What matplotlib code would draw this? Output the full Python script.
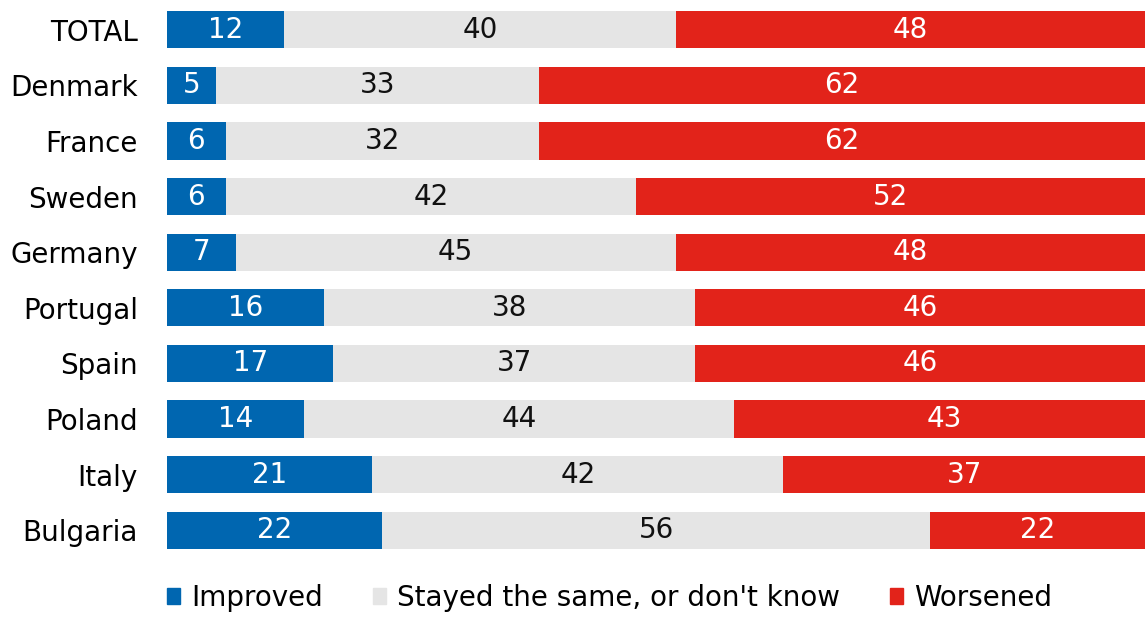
import matplotlib
matplotlib.use("Agg")
import matplotlib.pyplot as plt
from matplotlib.patches import Patch
import numpy as np

plt.rcParams['font.family'] = ['DejaVu Sans']

countries = ['TOTAL', 'Denmark', 'France', 'Sweden', 'Germany',
             'Portugal', 'Spain', 'Poland', 'Italy', 'Bulgaria']
improved = [12, 5, 6, 6, 7, 16, 17, 14, 21, 22]
same = [40, 33, 32, 42, 45, 38, 37, 44, 42, 56]
worsened = [48, 62, 62, 52, 48, 46, 46, 43, 37, 22]
series_names = ['Improved', 'Stayed the same, or don\'t know', 'Worsened']

colors = ['#0066b0', '#e5e5e5', '#e2231a']
text_colors = ['white', '#111111', 'white']

fig = plt.figure(figsize=(11.45, 6.17), dpi=100)
ax = fig.add_axes([0.1459, 0.0956, 0.8541, 0.9012])

y = np.arange(len(countries))
left = np.zeros(len(countries))
for vals, c, tc in zip([improved, same, worsened], colors, text_colors):
    vals = np.array(vals)
    ax.barh(y, vals, left=left, height=0.67, color=c)
    for yi, l, v in zip(y, left, vals):
        ax.text(l + v / 2, yi, str(v), ha='center', va='center',
                color=tc, fontsize=20)
    left = left + vals

ax.set_xlim(0, 100)
ax.set_ylim(len(countries) - 0.5, -0.5)
ax.set_yticks(y)
ax.set_yticklabels(countries, fontsize=20)
ax.tick_params(axis='y', length=0, pad=21)
ax.set_xticks([])
for s in ax.spines.values():
    s.set_visible(False)

handles = [Patch(color=c) for c in colors]
fig.legend(handles, series_names, loc='center left',
           bbox_to_anchor=(0.124, 0.031), ncol=3, frameon=False,
           fontsize=20, handlelength=0.47, handleheight=0.47,
           handletextpad=0.4, columnspacing=1.8)

fig.savefig('out.png', dpi=100)
